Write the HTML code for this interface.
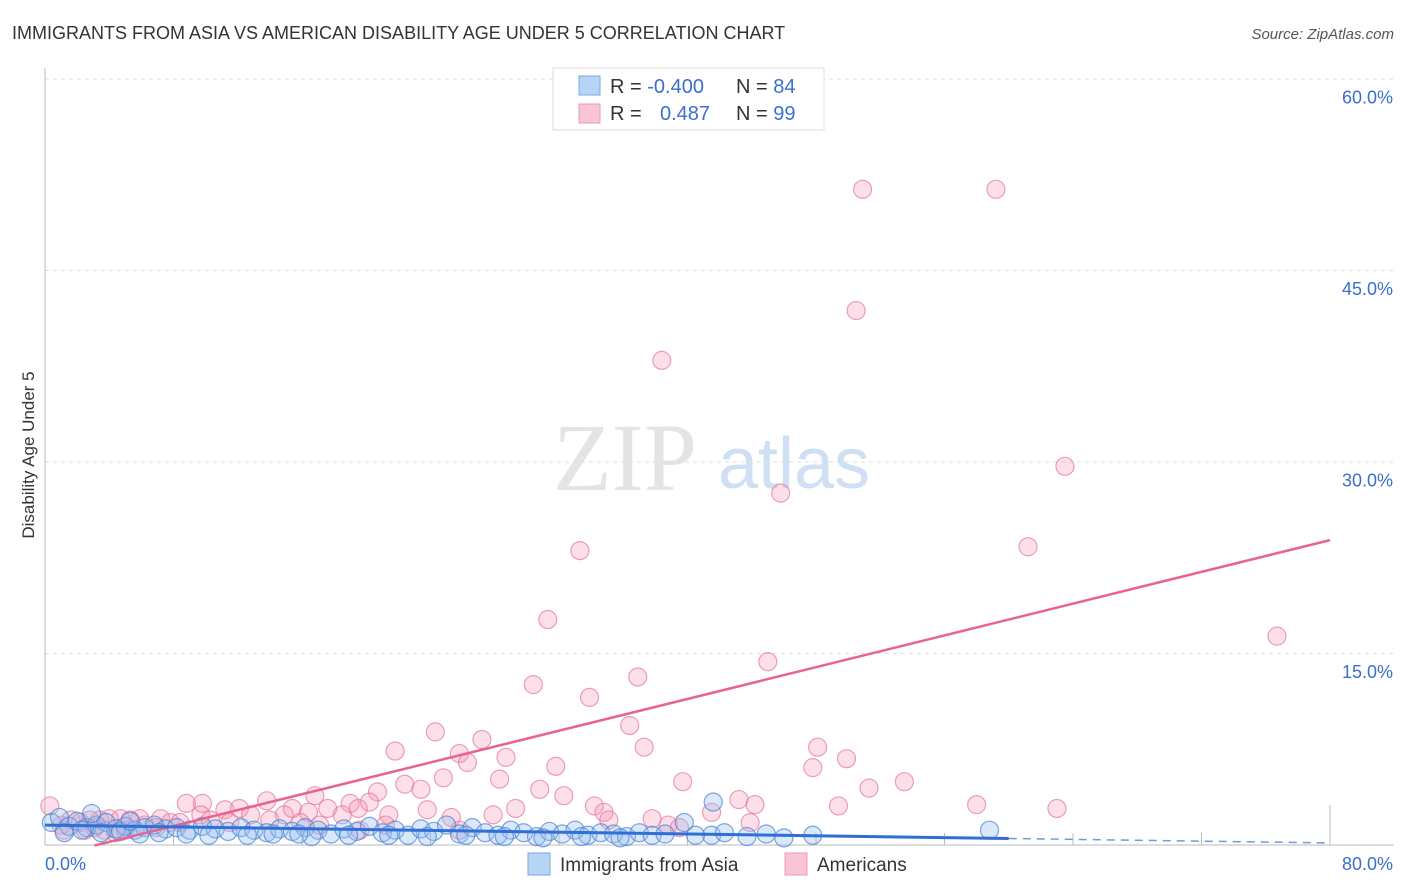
<!DOCTYPE html>
<html><head><meta charset="utf-8"><style>
body{margin:0;background:#fff;font-family:"Liberation Sans",sans-serif;}
svg{display:block}
</style></head><body>
<svg id="chart" width="1406" height="892">
<text x="12" y="39" font-size="18" fill="#333">IMMIGRANTS FROM ASIA VS AMERICAN DISABILITY AGE UNDER 5 CORRELATION CHART</text>
<text x="1394" y="39" font-size="15" fill="#555" font-style="italic" text-anchor="end">Source: ZipAtlas.com</text>
<g>
<text x="553" y="490" font-size="96" fill="#e4e4e4" font-family="Liberation Serif,serif">ZIP</text>
<text x="718" y="488" font-size="72" fill="#cfe0f5">atlas</text>
</g>
<g id="grid"></g>
<g id="axes"></g>
<g id="marks"></g>
<text transform="translate(34,455) rotate(-90)" font-size="17" fill="#333" text-anchor="middle">Disability Age Under 5</text>
<g>
<rect x="553" y="68" width="271" height="62" fill="#fff" stroke="#ddd"/>
<rect x="579" y="76" width="21" height="19" fill="#b7d3f6" stroke="#7aa9e0"/>
<rect x="579" y="104" width="21" height="19" fill="#f9c4d4" stroke="#eb9ab3"/>
<text x="610" y="93" font-size="20" fill="#333">R = <tspan fill="#3a6fd0">-0.400</tspan><tspan x="736">N = </tspan><tspan fill="#3a6fd0">84</tspan></text>
<text x="610" y="120" font-size="20" fill="#333">R = <tspan x="660" fill="#3a6fd0">0.487</tspan><tspan x="736">N = </tspan><tspan fill="#3a6fd0">99</tspan></text>
</g>
<g>
<rect x="528" y="853" width="22" height="22" fill="#b7d3f6" stroke="#7aa9e0"/>
<text x="560" y="871" font-size="19" fill="#333">Immigrants from Asia</text>
<rect x="785" y="853" width="22" height="22" fill="#f9c4d4" stroke="#eb9ab3"/>
<text x="817" y="871" font-size="19" fill="#333">Americans</text>
</g>
</svg>
<script>
const yTicks=[15,30,45,60];
const yTickLabels=["15.0%","30.0%","45.0%","60.0%"];
const xTicks=[0,8,16,24,32,40,48,56,64,72,80];
const xEndLabels=["0.0%","80.0%"];
const americansX=[50.9,59.2,50.5,38.4,63.5,45.8,61.2,33.3,31.3,76.7,45.0,30.4,36.9,33.9,24.3,36.4,27.2,37.3,21.8,25.8,28.7,48.1,49.9,31.8,47.8,26.3,24.8,28.3,39.7,53.5,51.3,22.4,23.4,20.7,16.8,30.8,32.3,43.2,58.0,63.0,44.2,49.4,29.3,34.2,41.5,34.8,23.8,8.8,9.8,13.8,19.0,20.2,15.4,11.2,12.1,17.6,16.4,19.5,18.5,12.8,21.4,14.9,25.3,21.2,35.1,38.8,43.9,27.9,37.8,39.5,9.7,7.2,5.9,5.3,4.7,4.0,3.4,2.8,2.2,1.6,1.0,0.3,1.2,2.5,3.1,3.7,4.4,5.0,6.2,6.9,7.8,8.4,10.3,11.5,14.0,15.9,17.1,19.6,25.8];
const americansY=[51.4,51.4,41.9,38.0,29.7,27.6,23.4,23.1,17.7,16.4,14.4,12.6,13.2,11.6,8.9,9.4,8.3,7.7,7.4,7.2,6.9,7.7,6.8,6.2,6.1,6.5,5.3,5.2,5.0,5.0,4.5,4.8,4.4,4.2,3.9,4.4,3.9,3.6,3.2,2.9,3.2,3.1,2.9,3.1,2.6,2.6,2.8,3.3,3.3,3.5,3.3,3.4,2.9,2.8,2.9,2.9,2.6,2.9,2.4,2.4,2.4,2.4,2.2,1.6,2.0,1.6,1.8,2.4,2.1,1.4,2.4,2.1,2.1,2.0,2.1,2.1,2.0,2.0,1.8,2.0,1.6,3.1,1.2,1.2,1.4,1.2,1.0,1.2,1.6,1.4,1.8,1.8,2.0,1.8,2.0,1.8,1.6,1.2,1.2];
const asiaX=[41.6,39.8,58.8,47.8,44.9,41.5,0.4,0.9,1.5,2.0,2.6,3.2,3.8,4.4,5.0,5.6,6.2,6.8,7.5,8.2,9.0,9.8,10.6,11.4,12.2,13.0,13.8,14.6,15.4,16.2,17.0,17.8,18.6,19.4,20.2,21.0,21.8,22.6,23.4,24.2,25.0,25.8,26.6,27.4,28.2,29.0,29.8,30.6,31.4,32.2,33.0,33.8,34.6,35.4,36.2,37.0,37.8,38.6,40.5,42.3,43.7,46.0,1.2,2.3,3.5,4.7,5.9,7.1,8.8,10.2,12.6,14.2,16.6,18.9,21.4,23.8,26.2,28.6,31.0,33.4,35.8,2.9,5.3,15.8];
const asiaY=[3.4,1.8,1.2,0.8,0.9,0.8,1.8,2.2,1.5,1.9,1.4,1.6,1.8,1.3,1.5,1.2,1.4,1.6,1.3,1.4,1.2,1.5,1.3,1.1,1.4,1.2,1.0,1.3,1.1,1.4,1.2,0.9,1.3,1.1,1.5,1.0,1.2,0.8,1.3,1.1,1.6,0.9,1.4,1.0,0.8,1.2,1.0,0.7,1.1,0.9,1.2,0.8,1.0,0.9,0.7,1.0,0.8,0.9,0.8,1.0,0.7,0.6,1.0,1.2,1.0,1.1,0.9,1.0,0.9,0.8,0.8,0.9,0.7,0.8,0.8,0.7,0.8,0.7,0.6,0.7,0.6,2.5,1.9,0.9];
const trendAsia=[1.6,0.2];
const trendAmericans=[-0.96,0.311];

const NS="http://www.w3.org/2000/svg";
const X0=45,X1=1330,Y0=845.5,PXY=191.5/15;
const sx=v=>X0+(X1-X0)*v/80;
const sy=v=>Y0-v*PXY;
function mk(tag,attrs,parent){const e=document.createElementNS(NS,tag);for(const k in attrs)e.setAttribute(k,attrs[k]);parent.appendChild(e);return e;}
const grid=document.getElementById('grid'),axes=document.getElementById('axes'),marks=document.getElementById('marks');
yTicks.forEach((t,i)=>{
  const l=mk('line',{x1:X0,x2:1394,y1:sy(t)-0.5,y2:sy(t)-0.5,stroke:'#ddd','stroke-dasharray':'4,4'},grid);
  
  
  const tx=mk('text',{x:1393,y:sy(t)+24,'font-size':18,fill:'#3a6fd0','text-anchor':'end'},axes);
  tx.textContent=yTickLabels[i];
  
  
});
const ya=mk('line',{x1:X0,x2:X0,y1:68,y2:845,stroke:'#bbb'},axes);


const xa=mk('line',{x1:X0,x2:1394,y1:845,y2:845,stroke:'#bbb'},axes);


xTicks.forEach(t=>{
  const l=mk('line',{x1:sx(t),x2:sx(t),y1:t==80?805:833,y2:845,stroke:'#bbb'},axes);
  
  
});
const xl0=mk('text',{x:45,y:870,'font-size':18,fill:'#3a6fd0'},axes);xl0.textContent=xEndLabels[0];


const xl1=mk('text',{x:1393,y:870,'font-size':18,fill:'#3a6fd0','text-anchor':'end'},axes);xl1.textContent=xEndLabels[1];



americansX.forEach((x,i)=>{
  const c=mk('circle',{cx:sx(x),cy:sy(americansY[i]),r:9,fill:'rgba(244,150,180,0.3)',stroke:'rgba(228,120,155,0.7)','stroke-width':1.2},marks);
  
  
});
asiaX.forEach((x,i)=>{
  const c=mk('circle',{cx:sx(x),cy:sy(asiaY[i]),r:9,fill:'rgba(150,190,240,0.35)',stroke:'rgba(70,130,210,0.7)','stroke-width':1.2},marks);
  
  
});
const ya0=trendAmericans[0],yb=trendAmericans[1];
const xs=-ya0/yb;
const pl=mk('line',{x1:sx(xs),y1:sy(0),x2:sx(80),y2:sy(ya0+yb*80),stroke:'#e8638f','stroke-width':2.5},marks);


const ta=x=>trendAsia[0]+(trendAsia[1]-trendAsia[0])*x/80;
const bl=mk('line',{x1:sx(0),y1:sy(ta(0)),x2:sx(60),y2:sy(ta(60)),stroke:'#2f6fd6','stroke-width':3},marks);


const bd=mk('line',{x1:sx(60),y1:sy(ta(60)),x2:sx(80),y2:sy(ta(80)),stroke:'#6f9ad8','stroke-width':1.5,'stroke-dasharray':'8,6'},marks);


</script>
</body></html>
